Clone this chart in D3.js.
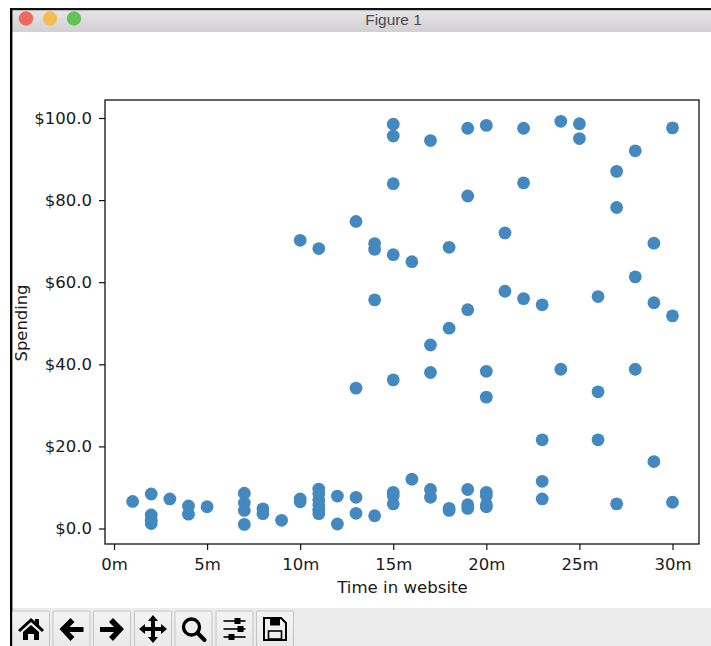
<!DOCTYPE html>
<html><head><meta charset="utf-8">
<script src="https://cdnjs.cloudflare.com/ajax/libs/d3/7.8.5/d3.min.js"></script>
<style>html,body{margin:0;padding:0;background:#fff;overflow:hidden}svg{display:block}text{font-family:"DejaVu Sans";fill:#1a1a1a}</style>
</head><body><div id="c"></div>
<script>
const minutes = [1,2,2,2,2,3,4,4,5,7,7,7,7,8,8,9,10,10,10,11,11,11,11,11,11,11,12,12,13,13,13,13,14,14,14,14,15,15,15,15,15,15,15,15,16,16,17,17,17,17,17,18,18,18,18,19,19,19,19,19,19,20,20,20,20,20,20,20,21,21,22,22,22,23,23,23,23,24,24,25,25,26,26,26,27,27,27,28,28,28,29,29,29,30,30,30];
const spending = [6.6,8.4,3.3,2,1.2,7.2,5.5,3.5,5.3,8.6,6.2,4.4,1,4.8,3.6,2,7.2,6.5,70.2,9.6,8.5,7,5.8,4.5,3.6,68.2,7.9,1.1,7.6,3.7,34.2,74.8,3.1,55.7,68,69.4,8.8,8,6,36.2,66.7,84,95.6,98.5,12,65,9.5,7.6,38,44.7,94.5,4.9,4.4,48.8,68.5,9.5,5.8,4.9,53.3,81,97.5,8.8,8,5.8,5.3,32,38.3,98.2,57.8,72,56,84.2,97.5,7.2,11.5,21.6,54.5,38.8,99.2,98.6,95,21.6,33.3,56.5,6,78.2,87,38.8,61.3,92,16.3,55,69.5,6.4,51.8,97.6];
const xTicks = [0,5,10,15,20,25,30];
const yTicks = [0,20,40,60,80,100];
const xTitle = "Time in website", yTitle = "Spending", windowTitle = "Figure 1";

const W=711,H=646;
const svg=d3.select("#c").append("svg").attr("width",W).attr("height",H);
const defs=svg.append("defs");
const g1=defs.append("linearGradient").attr("id","tb").attr("x1",0).attr("x2",0).attr("y1",0).attr("y2",1);
g1.append("stop").attr("offset",0).attr("stop-color","#e6e4e6");
g1.append("stop").attr("offset",1).attr("stop-color","#d2d0d2");
const g2=defs.append("linearGradient").attr("id","btn").attr("x1",0).attr("x2",0).attr("y1",0).attr("y2",1);
g2.append("stop").attr("offset",0).attr("stop-color","#f4f4f4");
g2.append("stop").attr("offset",1).attr("stop-color","#e8e8e8");

// window chrome
svg.append("rect").attr("x",10).attr("y",10).attr("width",W-10).attr("height",22).attr("fill","url(#tb)");
svg.append("rect").attr("x",12).attr("y",608).attr("width",W-12).attr("height",38).attr("fill","#ececec");
svg.append("rect").attr("x",10).attr("y",8).attr("width",W-10).attr("height",2.2).attr("fill","#111");
svg.append("rect").attr("x",10).attr("y",8).attr("width",2.4).attr("height",H-8).attr("fill","#000");
[[26,"#ee6a5f"],[50,"#f5bd4f"],[74,"#61c455"]].forEach(([cx,f])=>svg.append("circle").attr("cx",cx).attr("cy",18.5).attr("r",7.2).attr("fill",f));
svg.append("text").attr("x",393.5).attr("y",24.5).attr("text-anchor","middle").style("font-family","'Liberation Sans'").style("font-size","15.4px").style("fill","#4a4a4a").text(windowTitle);

// toolbar
const btnX=[12.5,53,93.5,134.5,175,216,256.5];
const icons=[
 "M-13,1 L0,-11 L4,-7.5 V-10 H8 V-4 L13,1 L11,3 L0,-7 L-11,3 Z M-8,3 L0,-4 L8,3 V11 H3 V5 H-3 V11 H-8 Z",
 "M-12,0 L-1,-11 L3,-7 L-2,-2 H12 V3 H-2 L3,8 L-1,12 Z",
 "M12,0 L1,-11 L-3,-7 L2,-2 H-12 V3 H2 L-3,8 L1,12 Z",
 "M0,-14 L5,-8 H2 V-2 H8 V-5 L14,0 L8,5 V2 H2 V8 H5 L0,14 L-5,8 H-2 V2 H-8 V5 L-14,0 L-8,-5 V-2 H-2 V-8 H-5 Z"
];
btnX.forEach((bx,i)=>{
  svg.append("rect").attr("x",bx).attr("y",611).attr("width",37).attr("height",40).attr("rx",1).attr("fill","url(#btn)").attr("stroke","#c4c4c4").attr("stroke-width",1);
  const cx=bx+18.5, cy=629;
  const g=svg.append("g").attr("transform",`translate(${cx},${cy})`);
  if(i<4) g.append("path").attr("d",icons[i]).attr("fill","#000");
  if(i===4){g.append("circle").attr("cx",-2).attr("cy",-2).attr("r",8).attr("fill","none").attr("stroke","#000").attr("stroke-width",3.4);
    g.append("line").attr("x1",4).attr("y1",4).attr("x2",11).attr("y2",11).attr("stroke","#000").attr("stroke-width",4).attr("stroke-linecap","round");}
  if(i===5){
    [[-8,3],[0,6],[8,-3]].forEach(([dy,kx])=>{g.append("line").attr("x1",-11).attr("x2",11).attr("y1",dy).attr("y2",dy).attr("stroke","#000").attr("stroke-width",1.6);
      g.append("rect").attr("x",kx-3).attr("y",dy-3).attr("width",6).attr("height",6).attr("fill","#000");});}
  if(i===6){g.append("path").attr("d","M-11,-11 H6 L11,-6 V11 H-11 Z").attr("fill","none").attr("stroke","#000").attr("stroke-width",2);
    g.append("rect").attr("x",-5).attr("y",-10).attr("width",10).attr("height",6.5).attr("fill","#000");
    g.append("rect").attr("x",-6.5).attr("y",2).attr("width",13).attr("height",8).attr("fill","none").attr("stroke","#000").attr("stroke-width",1.6);}
});

// plot
const axL=105,axR=699,axT=100,axB=544;
const x=d3.scaleLinear().domain([0,30]).range([114,672.5]);
const y=d3.scaleLinear().domain([0,100]).range([528.5,118]);
svg.append("g").selectAll("circle").data(minutes).join("circle")
  .attr("cx",d=>x(d)).attr("cy",(d,i)=>y(spending[i])).attr("r",6.4)
  .attr("fill","#4389c0");
svg.append("rect").attr("x",axL).attr("y",axT).attr("width",axR-axL).attr("height",axB-axT)
  .attr("fill","none").attr("stroke","#111").attr("stroke-width",1.3);

const gx=svg.append("g").attr("transform",`translate(0,${axB})`)
  .call(d3.axisBottom(x).tickValues(xTicks).tickFormat(d=>d+"m").tickSize(6).tickPadding(8));
const gy=svg.append("g").attr("transform",`translate(${axL},0)`)
  .call(d3.axisLeft(y).tickValues(yTicks).tickFormat(d=>"$"+d.toFixed(1)).tickSize(6).tickPadding(7));
[gx,gy].forEach(g=>{g.select(".domain").remove();
  g.selectAll("line").attr("stroke","#111").attr("stroke-width",1.2);
  g.selectAll("text").style("font-family","'DejaVu Sans'").style("font-size","16.5px").attr("fill","#1a1a1a");});
svg.append("text").attr("x",402.5).attr("y",593).attr("text-anchor","middle").style("font-size","16.6px").text(xTitle);
svg.append("text").attr("transform","translate(26.5,323) rotate(-90)").attr("text-anchor","middle").style("font-size","16.4px").text(yTitle);
</script></body></html>
